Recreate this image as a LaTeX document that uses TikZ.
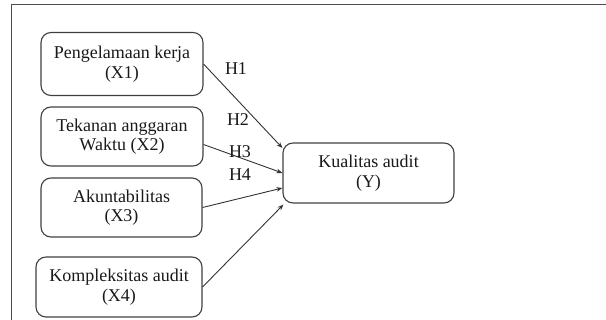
\documentclass[tikz,border=0pt]{standalone}
\usepackage{fontspec}
\setmainfont{Liberation Serif}
\usetikzlibrary{calc,arrows.meta}
\begin{document}
\begin{tikzpicture}[x=1pt,y=-1pt,
  varbox/.style={draw=black!75, line width=1.1pt, rounded corners=10pt, inner sep=0pt, align=center,
    font=\fontsize{18}{19.5}\selectfont, text=black!90},
  link/.style={draw=black!80, line width=0.9pt, -{Stealth[length=6pt,width=4.5pt]}},
  hlabel/.style={font=\fontsize{18}{19.5}\selectfont, text=black!90, inner sep=0pt},
  frameline/.style={draw=black!70, line width=1.4pt}]
\useasboundingbox (0,0) rectangle (606,320);
\draw[frameline] (11,4.5) coordinate (ftl) -- (606,4.5) coordinate (ftr);
\draw[frameline] (11.5,4.5) -- (11.5,320) coordinate (fbl);
\node[varbox, minimum width=162pt, minimum height=63pt] (X1) at (122,64) {Pengelamaan kerja\\(X1)};
\node[varbox, minimum width=162pt, minimum height=59pt] (X2) at (122,136.5) {Tekanan anggaran\\Waktu (X2)};
\node[varbox, minimum width=161pt, minimum height=59pt] (X3) at (121.5,207.5) {Akuntabilitas\\(X3)};
\node[varbox, minimum width=166pt, minimum height=60pt] (X4) at (119,287) {Kompleksitas audit\\(X4)};
\node[varbox, minimum width=171pt, minimum height=60pt] (Y) at (368.5,173) {Kualitas audit\\(Y)};
\draw[link] (X1.east) -- ($(Y.west)+(0,-25)$);
\draw[link] ($(X2.east)+(0,8)$) -- (Y.west);
\draw[link] (X3.east) -- ($(Y.west)+(0,15)$);
\draw[link] (X4.east) -- ($(Y.south west)+(1,1)$);
\node[hlabel] (h1) at (236,69) {H1};
\node[hlabel] (h2) at (238,120) {H2};
\node[hlabel] (h3) at (240,152) {H3};
\node[hlabel] (h4) at (240,175) {H4};
\end{tikzpicture}
\end{document}
